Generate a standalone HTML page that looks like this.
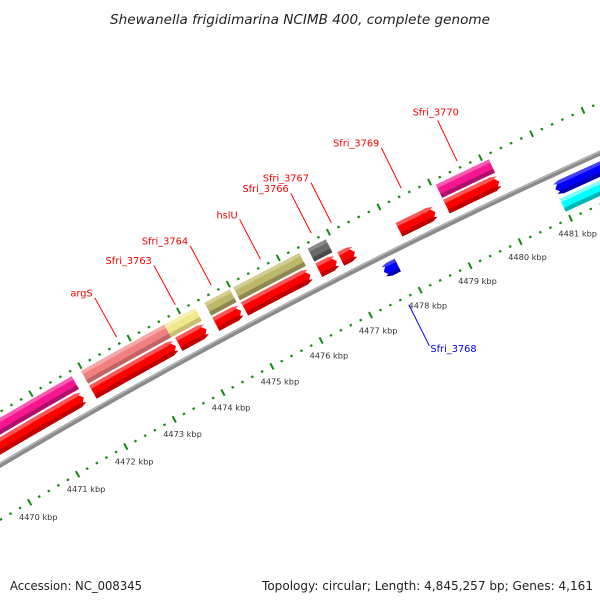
<!DOCTYPE html>
<html><head><meta charset="utf-8"><style>
html,body{margin:0;padding:0;background:#fff;}
svg{display:block;font-family:"DejaVu Sans","Liberation Sans",sans-serif;}
</style></head><body>
<svg id="map" width="600" height="600" viewBox="0 0 600 600" xmlns="http://www.w3.org/2000/svg">
<rect width="600" height="600" fill="#fff"/>
<text x="300" y="24" text-anchor="middle" font-size="13" font-style="italic" fill="#222" textLength="380" lengthAdjust="spacingAndGlyphs">Shewanella frigidimarina NCIMB 400, complete genome</text>
<g id="plot"></g>
<text x="10" y="590" font-size="12.5" fill="#222" textLength="132" lengthAdjust="spacingAndGlyphs">Accession: NC_008345</text>
<text x="593" y="590" font-size="12.5" fill="#222" text-anchor="end" textLength="331" lengthAdjust="spacingAndGlyphs">Topology: circular; Length: 4,845,257 bp; Genes: 4,161</text>
</svg>
<script>
// ---- data (kbp) ----
const fwdCdsNames = ["prev-gene","argS","Sfri_3763","Sfri_3764","hslU","Sfri_3766","Sfri_3767","Sfri_3769","Sfri_3770"];
const fwdCdsStart = [4469.0, 4471.97, 4473.72, 4474.47, 4475.05, 4476.54, 4476.98, 4478.14, 4479.08];
const fwdCdsEnd   = [4471.78, 4473.66, 4474.28, 4474.98, 4476.37, 4476.90, 4477.26, 4478.86, 4480.12];
const fwdCogStart = [4469.0, 4471.97, 4473.66, 4474.47, 4475.05, 4476.54, 4479.08];
const fwdCogEnd   = [4471.78, 4473.66, 4474.28, 4474.98, 4476.37, 4476.90, 4480.12];
const fwdCogColor = ["#f5168f","#f08080","#f0e68c","#bdb76b","#bdb76b","#696969","#f5168f"];
const revCdsStart = [4477.56, 4480.97];
const revCdsEnd   = [4477.84, 4484.0];
const revCogStart = [4480.97];
const revCogEnd   = [4484.0];
const revCogColor = ["#00ffff"];
const fwdLabels = ["argS","Sfri_3763","Sfri_3764","hslU","Sfri_3766","Sfri_3767","Sfri_3769","Sfri_3770"];
const fwdLabelPos = [4472.815, 4474.0, 4474.725, 4475.71, 4476.72, 4477.12, 4478.5, 4479.6];
const revLabels = ["Sfri_3768"];
const revLabelPos = [4477.70];
const majorTicks = [4468,4469,4470,4471,4472,4473,4474,4475,4476,4477,4478,4479,4480,4481,4482,4483,4484];
const labelTicks = [4470,4471,4472,4473,4474,4475,4476,4477,4478,4479,4480,4481,4482,4483,4484];
const tickLabels = ["4470 kbp","4471 kbp","4472 kbp","4473 kbp","4474 kbp","4475 kbp","4476 kbp","4477 kbp","4478 kbp","4479 kbp","4480 kbp","4481 kbp","4482 kbp","4483 kbp","4484 kbp"];

// ---- geometry ----
const CX=3084, CY=5662, R=6043;
const NS="http://www.w3.org/2000/svg";
const plot=document.getElementById('plot');
function ang(bp){return (-118.5+(bp-4474)*0.531)*Math.PI/180;}
function pt(bp,r){const a=ang(bp);return [CX+(R+r)*Math.cos(a),CY+(R+r)*Math.sin(a)];}
function mk(tag,attrs){const e=document.createElementNS(NS,tag);for(const k in attrs)e.setAttribute(k,attrs[k]);plot.appendChild(e);return e;}
function arcPts(b0,b1,r,n){const p=[];for(let i=0;i<=n;i++){p.push(pt(b0+(b1-b0)*i/n,r));}return p;}
function poly(p){return p.map(q=>q[0].toFixed(2)+','+q[1].toFixed(2)).join(' ');}
const tipKb = 6/(R*0.531*Math.PI/180);

function bandPts(b0,b1,r0,r1,dir,rc){
  let s=b0,e=b1;
  if(dir===1)e=Math.max(b0,b1-tipKb);
  if(dir===-1)s=Math.min(b1,b0+tipKb);
  let outer=arcPts(s,e,r1,20), inner=arcPts(s,e,r0,20).reverse();
  let p=[];
  if(dir===-1)p.push(pt(b0,rc));
  p=p.concat(outer);
  if(dir===1)p.push(pt(b1,rc));
  p=p.concat(inner);
  return p;
}
function feature(b0,b1,r,h,color,dark,light,dir,name){
  const g=document.createElementNS(NS,'g');
  
  
  plot.appendChild(g);
  const add=(pts,fill)=>{const e=document.createElementNS(NS,'polygon');e.setAttribute('points',poly(pts));e.setAttribute('fill',fill);g.appendChild(e);};
  add(bandPts(b0,b1,r-h/2,r+h/2,dir,r),color);
  add(bandPts(b0,b1,r-h/2,r-h/2+h*0.3,dir,r-h/2+h*0.15),dark);
  add(bandPts(b0,b1,r+h/2-h*0.25,r+h/2,dir,r+h/2-h*0.12),light);
}

// backbone
(function(){
  const p=arcPts(4466,4486,0,60);
  let d='M'+p.map(q=>q[0].toFixed(2)+' '+q[1].toFixed(2)).join(' L');
  const b=mk('path',{d:d,fill:'none',stroke:'#8a8a8a','stroke-width':5});
  
  
  const p2=arcPts(4466,4486,1.5,60);
  const h=mk('path',{d:'M'+p2.map(q=>q[0].toFixed(2)+' '+q[1].toFixed(2)).join(' L'),fill:'none',stroke:'#b5b5b5','stroke-width':1.5});
  
  
})();

// ticks
function ring(r,name){
  for(let i=0;i<majorTicks.length;i++){
    const m=majorTicks[i];
    const a=pt(m,r-3.5),b=pt(m,r+3.5);
    const t=mk('line',{x1:a[0],y1:a[1],x2:b[0],y2:b[1],stroke:'#108a10','stroke-width':2});
    
    
    if(i<majorTicks.length-1){
      for(let k=1;k<5;k++){
        const v=m+k*(majorTicks[i+1]-m)/5;
        const c=pt(v,r-1.1),d=pt(v,r+1.1);
        const mt=mk('line',{x1:c[0],y1:c[1],x2:d[0],y2:d[1],stroke:'#108a10','stroke-width':2.4});
        
        
      }
    }
  }
}
ring(46,'outer-ring');
ring(-47,'inner-ring');
for(let i=0;i<labelTicks.length;i++){
  const p=pt(labelTicks[i],-64);
  const t=mk('text',{x:p[0].toFixed(1),y:(p[1]+3).toFixed(1),'text-anchor':'middle','font-size':8.2,fill:'#333'});
  t.textContent=tickLabels[i];
  
  
}

// features
for(let i=0;i<fwdCogStart.length;i++){
  const c=fwdCogColor[i];
  const dark = c==='#f5168f'?'#b0106a':c==='#f08080'?'#c06565':c==='#f0e68c'?'#c8c070':c==='#bdb76b'?'#8c8850':'#4a4a4a';
  const light= c==='#f5168f'?'#ff5ab0':c==='#f08080'?'#f7a8a8':c==='#f0e68c'?'#f8f0b0':c==='#bdb76b'?'#d2cd90':'#8a8a8a';
  feature(fwdCogStart[i],fwdCogEnd[i],33.5,14.5,c,dark,light,0,'forward-cog-'+i);
}
for(let i=0;i<fwdCdsStart.length;i++){
  feature(fwdCdsStart[i],fwdCdsEnd[i],16.5,15,'#ff0000','#c00000','#ff5555',1,'forward-cds-'+fwdCdsNames[i]);
}
for(let i=0;i<revCdsStart.length;i++){
  feature(revCdsStart[i],revCdsEnd[i],-14.5,14,'#0000ff','#0000b0','#4040ff',-1,'reverse-cds-'+i);
}
for(let i=0;i<revCogStart.length;i++){
  feature(revCogStart[i],revCogEnd[i],-32,14,revCogColor[i],'#00b5b5','#80ffff',0,'reverse-cog-'+i);
}

// labels
for(let i=0;i<fwdLabels.length;i++){
  const a=pt(fwdLabelPos[i],53),b=pt(fwdLabelPos[i],98);
  const l=mk('line',{x1:a[0],y1:a[1],x2:b[0],y2:b[1],stroke:'#ff0000','stroke-width':1});
  
  
  const last = i===fwdLabels.length-1;
  const t=mk('text',{x:(b[0]-2).toFixed(1),y:(last?b[1]-5:b[1]-1).toFixed(1),'text-anchor':last?'middle':'end','font-size':9.8,fill:'#ff0000'});
  t.textContent=fwdLabels[i];
  
  
}
for(let i=0;i<revLabels.length;i++){
  const a=pt(revLabelPos[i],-55),b=pt(revLabelPos[i],-101);
  const l=mk('line',{x1:a[0],y1:a[1],x2:b[0],y2:b[1],stroke:'#0000ff','stroke-width':1});
  
  
  const t=mk('text',{x:(b[0]+1).toFixed(1),y:(b[1]+6).toFixed(1),'font-size':9.8,fill:'#0000ff'});
  t.textContent=revLabels[i];
  
  
}
</script>
</body></html>
